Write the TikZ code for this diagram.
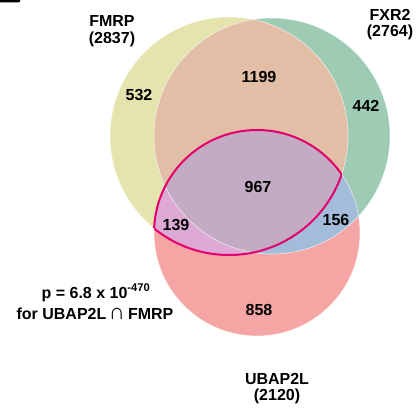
\documentclass[tikz,border=0pt]{standalone}
\usepackage{fontspec}
\setmainfont{Liberation Sans}
\definecolor{fmrpfill}{HTML}{E5E4AF}
\definecolor{fxrfill}{HTML}{9ECBB4}
\definecolor{ubapfill}{HTML}{F6A5A5}
\definecolor{fmrpfxr}{HTML}{E2BEA6}
\definecolor{fmrpubap}{HTML}{DDAAD6}
\definecolor{fxrubap}{HTML}{A2BCDA}
\definecolor{allthree}{HTML}{C3ABC3}
\definecolor{hilite}{HTML}{E4006D}
\tikzset{
  count/.style={anchor=base, inner sep=0pt},
  edge/.style={white, line width=0.6pt, opacity=0.7},
  rim/.style={hilite, line width=2pt}
}
\newcommand{\setcap}{\resizebox{!}{0.7em}{∩}}
\begin{document}
\begin{tikzpicture}[x=1pt, y=-1pt, font=\fontsize{16}{18}\selectfont\bfseries]
			\useasboundingbox (0,0) rectangle (419,409);
			\def\fmrp{(229,136) circle (119)}
			\def\fxr{(272,136) circle (118)}
			\def\ubap{(257,233) circle (103)}
			
			%panel letter, cut off
			\fill (0,0) -- (18,0) .. controls (21,0) .. (19,2.5) -- (0,2.5) -- cycle;
			
			%circles
			\fill[fmrpfill] \fmrp;
			\fill[fxrfill] \fxr;
			\begin{scope}
				\clip \fmrp;
				\fill[fmrpfxr] \fxr;
			\end{scope}
			\fill[ubapfill] \ubap;
			\begin{scope}
				\clip \ubap;
				\fill[fmrpubap] \fmrp;
				\fill[fxrubap] \fxr;
				\clip \fmrp;
				\fill[allthree] \fxr;
			\end{scope}
			\draw[edge] \fmrp;
			\draw[edge] \fxr;
			\draw[edge] \ubap;
			
			%UBAP2L n FMRP outline
			\begin{scope}
				\clip \ubap;
				\draw[rim] \fmrp;
			\end{scope}
			\begin{scope}
				\clip \fmrp;
				\draw[rim] \ubap;
			\end{scope}
			
			%set names
			\node[count] (fmrpname) at (112,27){FMRP};
			\node[count] (fmrpsize) at (112,43.5){(2837)};
			\node[count] (fxrname) at (390,21){FXR2};
			\node[count] (fxrsize) at (390,37){(2764)};
			\node[count] (ubapname) at (277,384){UBAP2L};
			\node[count] (ubapsize) at (277,400){(2120)};
			
			%region counts
			\node[count] (onlyfmrp) at (139,100){532};
			\node[count] (fmrpfxrn) at (259,82){1199};
			\node[count] (onlyfxr) at (366,111){442};
			\node[count] (alln) at (258,192){967};
			\node[count] (fmrpubapn) at (176,230){139};
			\node[count] (fxrubapn) at (336,225){156};
			\node[count] (onlyubap) at (259,315){858};
			
			%p value
			\node[count] (pval) at (96,298){p = 6.8 x 10\textsuperscript{-470}};
			\node[count] (pfor) at (95,319){for UBAP2L\hspace{0.15em}\setcap\hspace{0.2em}FMRP};
		\end{tikzpicture}
\end{document}
